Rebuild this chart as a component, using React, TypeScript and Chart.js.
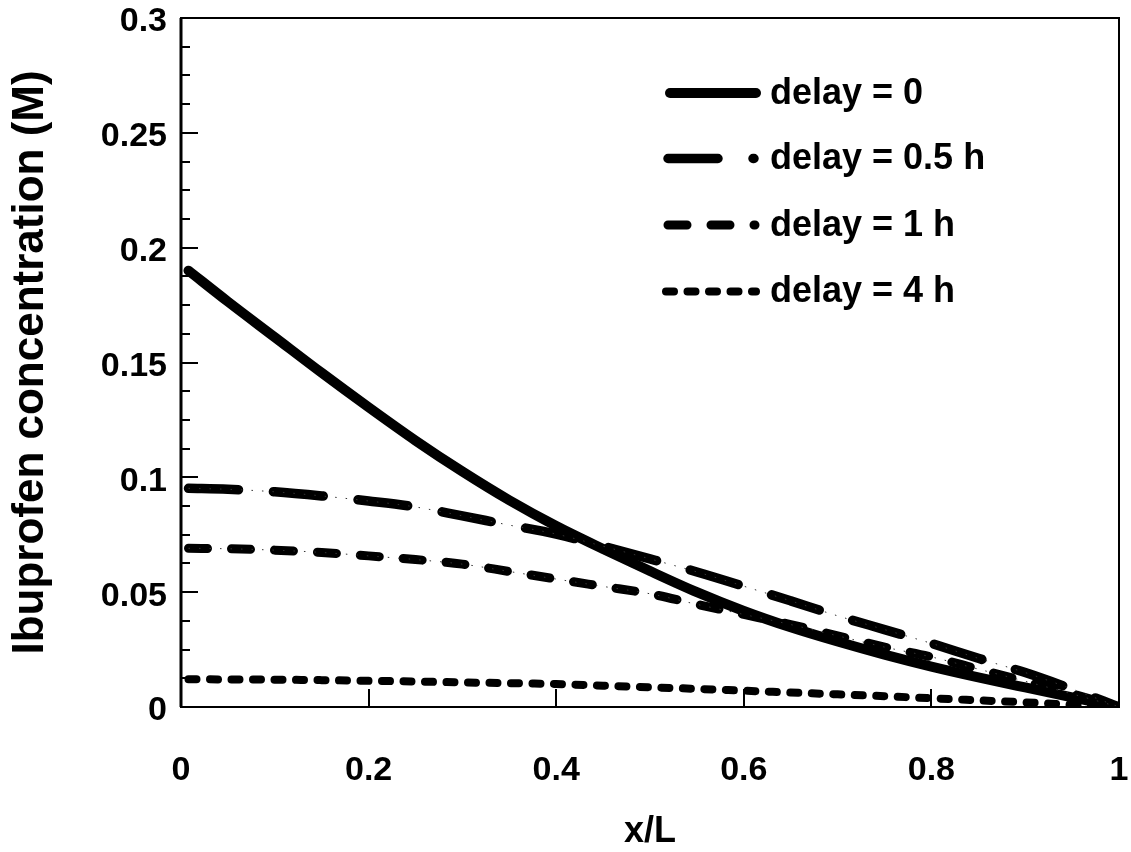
import React, { useEffect, useRef } from 'react';
import { Chart, registerables } from 'chart.js';

Chart.register(...registerables);

// ---- data ----
const xPositions = [0.008, 0.05, 0.1, 0.15, 0.2, 0.25, 0.3, 0.35, 0.4, 0.45, 0.5, 0.55, 0.6, 0.65, 0.7, 0.75, 0.8, 0.85, 0.9, 0.95, 1.0];
const delay0 = [0.190, 0.1765, 0.161, 0.1455, 0.1305, 0.116, 0.1025, 0.0900, 0.0788, 0.0688, 0.0592, 0.0500, 0.0418, 0.0347, 0.0285, 0.0228, 0.0176, 0.0129, 0.0085, 0.0042, 0.0];
const delay05 = [0.0952, 0.0948, 0.0937, 0.0919, 0.0897, 0.0871, 0.0832, 0.0792, 0.0753, 0.0700, 0.0645, 0.0588, 0.0526, 0.0462, 0.0397, 0.0337, 0.0277, 0.0212, 0.0150, 0.0078, 0.0];
const delay1 = [0.0691, 0.0689, 0.0683, 0.0673, 0.0658, 0.0642, 0.0622, 0.0590, 0.0557, 0.0525, 0.0493, 0.0447, 0.0403, 0.0359, 0.0310, 0.0261, 0.0218, 0.0165, 0.0112, 0.0057, 0.0];
const delay4 = [0.0121, 0.0120, 0.0119, 0.0117, 0.0114, 0.0111, 0.0107, 0.0104, 0.0100, 0.0093, 0.0086, 0.0079, 0.0071, 0.0063, 0.0055, 0.0047, 0.0038, 0.0029, 0.0020, 0.0010, 0.0];

const seriesLabels = ['delay = 0', 'delay = 0.5 h', 'delay = 1 h', 'delay = 4 h'];
const xTickLabels = ['0', '0.2', '0.4', '0.6', '0.8', '1'];
const yTickLabels = ['0', '0.05', '0.1', '0.15', '0.2', '0.25', '0.3'];
const xTitle = 'x/L';
const yTitle = 'Ibuprofen concentration (M)';

const FONT = "'Liberation Sans', Arial, Helvetica, sans-serif";

const toPoints = (ys: number[]) => ys.map((y, i) => ({ x: xPositions[i], y }));

const isMajorY = (v: number) => {
  const k = v / 0.05;
  return Math.abs(k - Math.round(k)) < 1e-6;
};

const framePlugin = {
  id: 'frameTicks',
  afterDatasetsDraw(chart: any) {
    const { ctx, chartArea: a, scales } = chart;
    ctx.save();
    ctx.strokeStyle = '#000';
    ctx.lineCap = 'butt';
    ctx.lineWidth = 2;
    ctx.strokeRect(a.left, a.top, a.right - a.left, a.bottom - a.top);
    ctx.lineWidth = 3;
    ctx.beginPath();
    ctx.moveTo(a.left, a.top);
    ctx.lineTo(a.left, a.bottom);
    ctx.stroke();
    ctx.lineWidth = 2;
    const ys = scales.y;
    ys.ticks.forEach((t: any) => {
      const p = Math.round(ys.getPixelForValue(t.value));
      const len = isMajorY(t.value) ? 17 : 9;
      ctx.beginPath();
      ctx.moveTo(a.left, p);
      ctx.lineTo(a.left + len, p);
      ctx.stroke();
    });
    const xs = scales.x;
    xs.ticks.forEach((t: any) => {
      const p = Math.round(xs.getPixelForValue(t.value));
      ctx.beginPath();
      ctx.moveTo(p, a.bottom);
      ctx.lineTo(p, a.bottom - 18);
      ctx.stroke();
    });
    ctx.restore();
  },
};

const legendPlugin = {
  id: 'customLegend',
  afterDraw(chart: any) {
    const { ctx } = chart;
    const rows = [93, 158.5, 225, 291.5];
    const items = chart.data.datasets.filter((d: any) => d.inLegend);
    ctx.save();
    items.forEach((d: any, i: number) => {
      const y = rows[i];
      ctx.beginPath();
      ctx.strokeStyle = d.borderColor;
      ctx.lineWidth = d.borderWidth;
      ctx.lineCap = 'round';
      ctx.setLineDash(d.borderDash || []);
      ctx.moveTo(d.legendStart, y);
      ctx.lineTo(d.legendEnd, y);
      ctx.stroke();
      ctx.setLineDash([]);
      ctx.fillStyle = '#000';
      ctx.font = `bold 36px ${FONT}`;
      ctx.textAlign = 'left';
      ctx.textBaseline = 'middle';
      ctx.fillText(d.label, 770, y + 1);
    });
    ctx.restore();
  },
};

export default function App() {
  const canvasRef = useRef<HTMLCanvasElement | null>(null);

  useEffect(() => {
    if (!canvasRef.current) return;
    Chart.defaults.font.family = FONT;
    Chart.defaults.color = '#000';
    const chart = new Chart(canvasRef.current, {
      type: 'line',
      data: {
        datasets: [
          {
            label: '',
            data: toPoints(delay05),
            borderColor: '#333',
            borderWidth: 1,
            borderDash: [1.5, 9],
            pointRadius: 0,
            cubicInterpolationMode: 'monotone',
          },
          {
            label: '',
            data: toPoints(delay1),
            borderColor: '#333',
            borderWidth: 1,
            borderDash: [1.5, 9],
            pointRadius: 0,
            cubicInterpolationMode: 'monotone',
          },
          {
            label: seriesLabels[0],
            data: toPoints(delay0),
            borderColor: '#000',
            borderWidth: 10,
            borderCapStyle: 'round',
            borderJoinStyle: 'round',
            pointRadius: 0,
            cubicInterpolationMode: 'monotone',
            inLegend: true,
            legendStart: 670,
            legendEnd: 756,
          },
          {
            label: seriesLabels[1],
            data: toPoints(delay05),
            borderColor: '#000',
            borderWidth: 9.5,
            borderDash: [50, 35],
            borderCapStyle: 'round',
            borderJoinStyle: 'round',
            pointRadius: 0,
            cubicInterpolationMode: 'monotone',
            inLegend: true,
            legendStart: 668,
            legendEnd: 754,
          },
          {
            label: seriesLabels[2],
            data: toPoints(delay1),
            borderColor: '#000',
            borderWidth: 9,
            borderDash: [19, 24],
            borderCapStyle: 'round',
            borderJoinStyle: 'round',
            pointRadius: 0,
            cubicInterpolationMode: 'monotone',
            inLegend: true,
            legendStart: 668,
            legendEnd: 755,
          },
          {
            label: seriesLabels[3],
            data: toPoints(delay4),
            borderColor: '#000',
            borderWidth: 8,
            borderDash: [8, 13.5],
            borderCapStyle: 'round',
            borderJoinStyle: 'round',
            pointRadius: 0,
            cubicInterpolationMode: 'monotone',
            inLegend: true,
            legendStart: 666,
            legendEnd: 756,
          },
        ] as any,
      },
      options: {
        animation: false,
        responsive: false,
        devicePixelRatio: 1,
        layout: { padding: { top: 18, right: 12, left: 0, bottom: 0 } },
        plugins: {
          legend: { display: false },
          tooltip: { enabled: false },
        },
        elements: { line: { fill: false } },
        scales: {
          x: {
            type: 'linear',
            min: 0,
            max: 1,
            grid: { display: false, drawTicks: false },
            border: { display: false },
            ticks: {
              stepSize: 0.2,
              autoSkip: false,
              maxRotation: 0,
              padding: 43,
              font: { size: 34, weight: 'bold' },
              callback: (_v: any, i: number) => xTickLabels[i] ?? '',
            },
            title: {
              display: true,
              text: xTitle,
              font: { size: 36, weight: 'bold', lineHeight: 1.1 },
              padding: { top: 0, bottom: 0 },
            },
            afterFit: (s: any) => {
              s.height = 145;
              s.paddingLeft = 0;
              s.paddingRight = 0;
            },
          },
          y: {
            type: 'linear',
            min: 0,
            max: 0.3,
            grid: { display: false, drawTicks: false },
            border: { display: false },
            ticks: {
              stepSize: 0.0125,
              autoSkip: false,
              padding: 14,
              labelOffset: 4,
              font: { size: 34, weight: 'bold' },
              callback: (v: any) => {
                const n = Number(v);
                if (!isMajorY(n)) return '';
                return yTickLabels[Math.round(n / 0.05)] ?? '';
              },
            },
            title: {
              display: true,
              text: yTitle,
              font: { size: 44, weight: 'bold', lineHeight: 1.2 },
              padding: { top: 4, bottom: 0 },
            },
            afterFit: (s: any) => {
              s.width = 181;
              s.paddingTop = 0;
              s.paddingBottom = 0;
            },
          },
        },
      } as any,
      plugins: [framePlugin, legendPlugin],
    });
    return () => chart.destroy();
  }, []);

  return (
    <div style={{ position: 'absolute', left: 0, top: 0, width: 1131, height: 852, background: '#fff' }}>
      <canvas ref={canvasRef} width={1131} height={852} style={{ display: 'block' }} />
    </div>
  );
}
